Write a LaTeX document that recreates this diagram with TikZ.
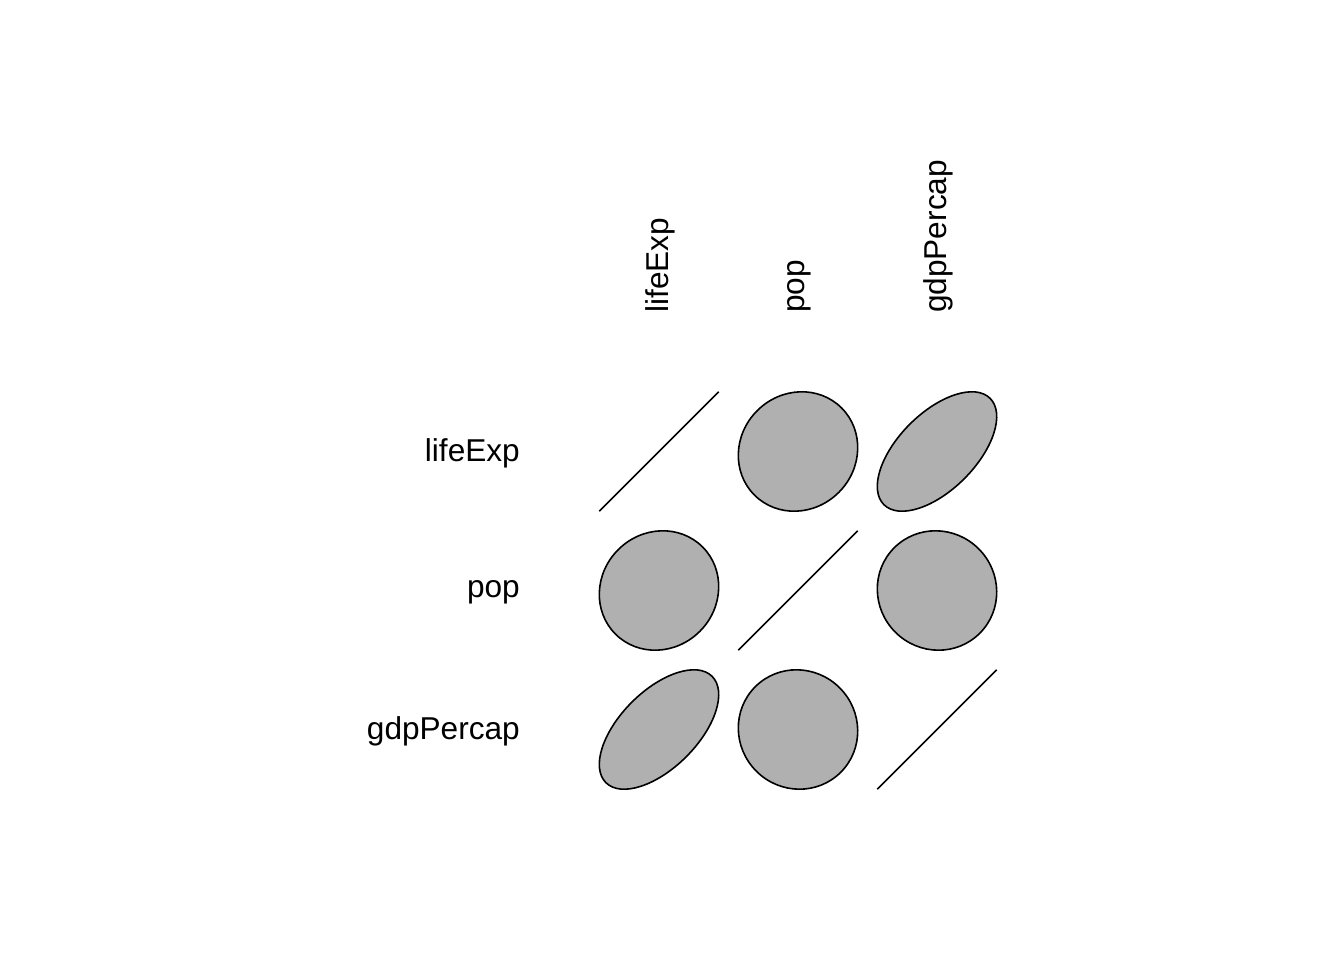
\documentclass[tikz,border=0pt]{standalone}
\usepackage{fontspec}
\setmainfont{Liberation Sans}
\definecolor{ellfill}{HTML}{B0B0B0}
\begin{document}
\begin{tikzpicture}[
  x=1pt, y=-1pt,
  corr ellipse/.style={draw=black, line width=1.6pt, fill=ellfill},
  diag line/.style={black, line width=1.6pt},
  var label/.style={inner sep=0pt, font=\fontsize{31.6}{37}\selectfont},
  col label/.style={var label, rotate=90, anchor=west},
  row label/.style={var label, anchor=east}
]
  % Page frame
  \useasboundingbox (0,0) rectangle (1344,960);

  % Cell centres (row, column)
  \coordinate (c11) at (659,451.5);
  \coordinate (c12) at (798,451.5);
  \coordinate (c13) at (937,451.5);
  \coordinate (c21) at (659,590.5);
  \coordinate (c22) at (798,590.5);
  \coordinate (c23) at (937,590.5);
  \coordinate (c31) at (659,729.5);
  \coordinate (c32) at (798,729.5);
  \coordinate (c33) at (937,729.5);

  % Diagonal: perfect correlation drawn as a line
  \draw[diag line] ([shift={(-59.7,59.7)}]c11) -- ([shift={(59.7,-59.7)}]c11);
  \draw[diag line] ([shift={(-59.7,59.7)}]c22) -- ([shift={(59.7,-59.7)}]c22);
  \draw[diag line] ([shift={(-59.7,59.7)}]c33) -- ([shift={(59.7,-59.7)}]c33);

  % lifeExp vs pop (r = 0.065)
  \draw[corr ellipse, rotate around={45:(c12)}] (c12) ellipse [x radius=61.61pt, y radius=57.73pt];
  \draw[corr ellipse, rotate around={45:(c21)}] (c21) ellipse [x radius=61.61pt, y radius=57.73pt];

  % lifeExp vs gdpPercap (r = 0.584)
  \draw[corr ellipse, rotate around={45:(c13)}] (c13) ellipse [x radius=75.13pt, y radius=38.52pt];
  \draw[corr ellipse, rotate around={45:(c31)}] (c31) ellipse [x radius=75.13pt, y radius=38.52pt];

  % pop vs gdpPercap (r = -0.026)
  \draw[corr ellipse, rotate around={45:(c23)}] (c23) ellipse [x radius=58.93pt, y radius=60.46pt];
  \draw[corr ellipse, rotate around={45:(c32)}] (c32) ellipse [x radius=58.93pt, y radius=60.46pt];

  % Column labels
  \node[col label] (collife) at (660,313) {lifeExp};
  \node[col label] (colpop) at (799,313) {pop};
  \node[col label] (colgdp) at (938,313) {gdpPercap};

  % Row labels
  \node[row label] (rowlife) at (520,453) {lifeExp};
  \node[row label] (rowpop) at (520,592) {pop};
  \node[row label] (rowgdp) at (520,731) {gdpPercap};

\end{tikzpicture}
\end{document}
